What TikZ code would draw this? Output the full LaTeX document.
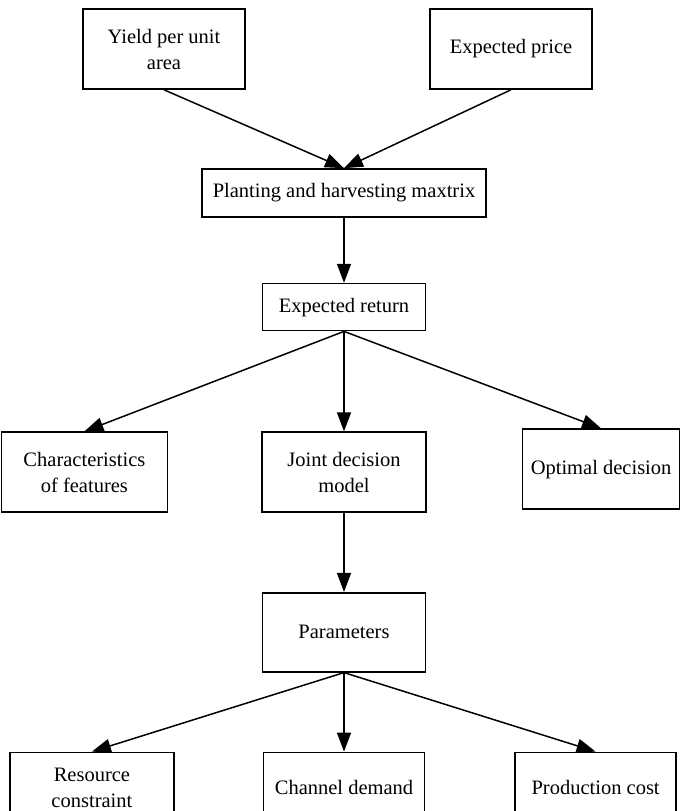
\documentclass[tikz,border=0pt]{standalone}
\usepackage{fontspec}
\setmainfont{Liberation Serif}
\usetikzlibrary{arrows.meta,positioning}

\begin{document}
\begin{tikzpicture}[
  node distance=79pt and 90pt,
  box/.style={draw, line width=1.6pt, align=center, inner sep=4pt,
              font=\fontsize{20.5}{26}\selectfont},
  arr/.style={-{Triangle[length=19pt, width=14pt]}, line width=1.5pt}
]
  \useasboundingbox (0,0) rectangle (680pt,811pt);
  % top row
  \node[box, minimum width=162pt, minimum height=80pt] (yield) at (164pt,762pt)
    {Yield per unit\\area};
  \node[box, minimum width=162pt, minimum height=80pt] (price) at (511pt,762pt)
    {Expected price};
  \node[box, minimum width=284pt, minimum height=48pt] (plant) at (344pt,618pt)
    {Planting and harvesting maxtrix};
  \node[box, minimum width=163pt, minimum height=47pt, below=65pt of plant] (ret)
    {Expected return};
  % middle row
  \node[box, minimum width=164pt, minimum height=80pt, below=100pt of ret] (joint)
    {Joint decision\\model};
  \node[box, minimum width=166pt, minimum height=80pt, left=93pt of joint] (char)
    {Characteristics\\of features};
  \node[box, minimum width=157pt, minimum height=80pt, right=95pt of joint, yshift=3pt] (opt)
    {Optimal decision};
  \node[box, minimum width=163pt, minimum height=79pt, below=of joint] (param)
    {Parameters};
  % bottom row
  \node[box, minimum width=161pt, minimum height=70pt, below=of param] (chan)
    {Channel demand};
  \node[box, minimum width=164pt, minimum height=70pt, left=88pt of chan] (res)
    {Resource\\constraint};
  \node[box, minimum width=161pt, minimum height=70pt, right=89pt of chan] (prod)
    {Production cost};

  \draw[arr] (yield.south) -- (plant.north);
  \draw[arr] (price.south) -- (plant.north);
  \draw[arr] (plant) -- (ret);
  \draw[arr] (ret.south) -- (char.north);
  \draw[arr] (ret) -- (joint);
  \draw[arr] (ret.south) -- (opt.north);
  \draw[arr] (joint) -- (param);
  \draw[arr] (param.south) -- (res.north);
  \draw[arr] (param) -- (chan);
  \draw[arr] (param.south) -- (prod.north);
\end{tikzpicture}
\end{document}
